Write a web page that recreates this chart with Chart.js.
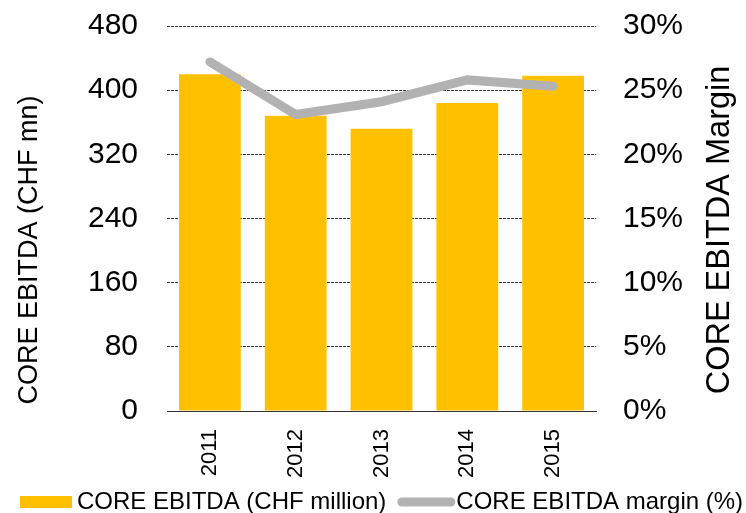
<!DOCTYPE html>
<html>
<head>
<meta charset="utf-8">
<script src="https://cdn.jsdelivr.net/npm/chart.js@4/dist/chart.umd.min.js"></script>
<style>
  html, body { margin: 0; padding: 0; background: #fff; }
  #wrap { width: 746px; height: 513px; }
</style>
</head>
<body>
<div id="wrap"><canvas id="c" width="746" height="513"></canvas></div>
<script>
// ---- data ----
const categories = ['2011', '2012', '2013', '2014', '2015'];
const ebitdaValues = [420, 368, 352, 384, 418];          // CHF million
const marginValues = [27.2, 23.1, 24.1, 25.8, 25.3];     // %
const leftTickValues = [0, 80, 160, 240, 320, 400, 480];
const rightTickValues = [0, 5, 10, 15, 20, 25, 30];
const barLabel = 'CORE EBITDA (CHF million)';
const lineLabel = 'CORE EBITDA margin (%)';
const leftTitle = 'CORE EBITDA (CHF mn)';
const rightTitle = 'CORE EBITDA Margin';

const FONT = "'Liberation Sans', Arial, Helvetica, sans-serif";
const BAR_COLOR = '#FFC000';
const LINE_COLOR = '#B2B2B2';

const customDecor = {
  id: 'customDecor',
  afterDraw(chart) {
    const ctx = chart.ctx;
    ctx.save();
    ctx.fillStyle = '#000';
    ctx.textAlign = 'center';
    ctx.textBaseline = 'middle';
    // left axis title
    ctx.font = '27px ' + FONT;
    ctx.save();
    ctx.translate(30, 250);
    ctx.rotate(-Math.PI / 2);
    ctx.fillText(leftTitle, 0, 0);
    ctx.restore();
    // right axis title (reads bottom to top)
    ctx.font = '32.5px ' + FONT;
    ctx.save();
    ctx.translate(720, 230);
    ctx.rotate(-Math.PI / 2);
    ctx.fillText(rightTitle, 0, 0);
    ctx.restore();

    // legend
    const ly = 502;
    ctx.font = '24px ' + FONT;
    ctx.textAlign = 'left';
    ctx.textBaseline = 'middle';
    let x = 20;
    ctx.fillStyle = BAR_COLOR;
    ctx.fillRect(x, ly - 6, 52, 12);
    x += 57;
    ctx.fillStyle = '#000';
    ctx.fillText(barLabel, x, ly);
    x += ctx.measureText(barLabel).width + 11;
    ctx.strokeStyle = LINE_COLOR;
    ctx.lineWidth = 9;
    ctx.lineCap = 'round';
    ctx.beginPath();
    ctx.moveTo(x + 4.5, ly);
    ctx.lineTo(x + 53.5, ly);
    ctx.stroke();
    x += 59;
    ctx.fillText(lineLabel, x, ly);
    ctx.restore();
  }
};

new Chart(document.getElementById('c'), {
  type: 'bar',
  data: {
    labels: categories,
    datasets: [
      {
        type: 'line',
        label: lineLabel,
        data: marginValues,
        yAxisID: 'y1',
        borderColor: LINE_COLOR,
        backgroundColor: LINE_COLOR,
        borderWidth: 9,
        borderCapStyle: 'round',
        borderJoinStyle: 'miter',
        pointRadius: 0,
        tension: 0,
        order: 0
      },
      {
        type: 'bar',
        label: barLabel,
        data: ebitdaValues,
        yAxisID: 'y',
        backgroundColor: BAR_COLOR,
        borderWidth: 0,
        categoryPercentage: 1,
        barPercentage: 0.72,
        order: 1
      }
    ]
  },
  options: {
    responsive: false,
    animation: false,
    events: [],
    layout: { padding: { top: 26, left: 0, right: 0, bottom: 0 } },
    plugins: {
      legend: { display: false },
      tooltip: { enabled: false },
      title: { display: false }
    },
    scales: {
      x: {
        grid: { display: false, drawTicks: false },
        border: { display: true, color: '#333', width: 1 },
        ticks: {
          color: '#000',
          font: { family: FONT, size: 22 },
          minRotation: 90,
          maxRotation: 90,
          padding: 18,
          autoSkip: false
        },
        afterFit(scale) { scale.height = 102; }
      },
      y: {
        position: 'left',
        min: 0,
        max: 480,
        afterBuildTicks(scale) { scale.ticks = leftTickValues.map(v => ({ value: v })); },
        grid: { color: '#333', lineWidth: 1, drawTicks: true, tickLength: 29, tickColor: 'rgba(0,0,0,0)' },
        border: { display: false, dash: [3, 1] },
        ticks: {
          color: '#000',
          font: { family: FONT, size: 30 },
          padding: 0
        },
        afterFit(scale) { scale.width = 167; }
      },
      y1: {
        position: 'right',
        min: 0,
        max: 30,
        afterBuildTicks(scale) { scale.ticks = rightTickValues.map(v => ({ value: v })); },
        grid: { drawOnChartArea: false, drawTicks: true, tickLength: 27, tickColor: 'rgba(0,0,0,0)' },
        border: { display: false },
        ticks: {
          color: '#000',
          font: { family: FONT, size: 30 },
          padding: 0,
          callback: v => v + '%'
        },
        afterFit(scale) { scale.width = 150; }
      }
    }
  },
  plugins: [customDecor]
});
</script>
</body>
</html>
